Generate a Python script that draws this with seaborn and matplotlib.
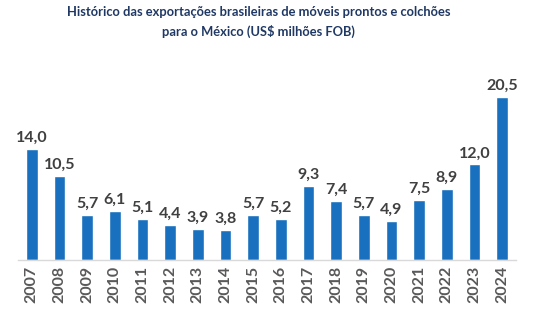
import matplotlib
matplotlib.use("Agg")
import matplotlib.pyplot as plt
import seaborn as sns
import pandas as pd

years = ["2007", "2008", "2009", "2010", "2011", "2012", "2013", "2014", "2015",
         "2016", "2017", "2018", "2019", "2020", "2021", "2022", "2023", "2024"]
values = [14.0, 10.5, 5.7, 6.1, 5.1, 4.4, 3.9, 3.8, 5.7,
          5.2, 9.3, 7.4, 5.7, 4.9, 7.5, 8.9, 12.0, 20.5]
title = "Histórico das exportações brasileiras de móveis prontos e colchões\npara o México (US$ milhões FOB)"

sns.set_theme(style="white")
plt.rcParams['font.family'] = ['Lato', 'DejaVu Sans']

df = pd.DataFrame({"ano": years, "valor": values})

fig = plt.figure(figsize=(5.44, 3.22), dpi=100)
ax = fig.add_axes([18/544, 62/322, 498/544, 199/322])
sns.barplot(data=df, x="ano", y="valor", color="#1870BE", width=0.42,
            saturation=1, ax=ax)
ax.set_ylim(0, 25)
ax.set_xlim(-0.5, len(years) - 0.5)
labels = [f"{v:.1f}".replace(".", ",") for v in values]
ax.bar_label(ax.containers[0], labels=labels, padding=3, fontsize=11.5,
             fontweight="bold", color="#404040")
ax.set_xlabel("")
ax.set_ylabel("")
ax.set_yticks([])
for s in ["top", "right", "left"]:
    ax.spines[s].set_visible(False)
ax.spines["bottom"].set_color("#D9D9D9")
ax.spines["bottom"].set_linewidth(1)
ax.tick_params(axis="x", length=0, pad=4)
for t in ax.get_xticklabels():
    t.set_rotation(90)
    t.set_fontsize(11.5)
    t.set_fontweight("bold")
    t.set_color("#595959")
fig.text(0.475, 0.98, title, ha="center", va="top", fontsize=9.3,
         fontweight="bold", color="#1F3864", linespacing=1.6)
fig.savefig("out.png", dpi=100, facecolor="white")
